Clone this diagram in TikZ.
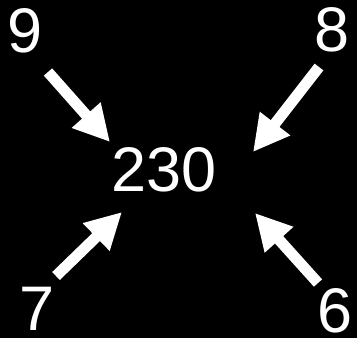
\documentclass[tikz,border=0pt]{standalone}
\usepackage{fontspec}
\setmainfont{Liberation Sans}
\usetikzlibrary{arrows.meta}
\begin{document}
\begin{tikzpicture}[x=1pt,y=-1pt,
  num/.style={text=white,font=\fontsize{63}{63}\selectfont,inner sep=0pt},
  bigarrow/.style={draw=white,line width=11pt,-{Triangle[length=36pt,width=36pt]}}]
\fill[black] (0,0) rectangle (357,338);
\useasboundingbox (0,0) rectangle (357,338);
\node[num] (n9) at (25,31) {9};
\node[num] (n8) at (332,30) {8};
\node[num] (n7) at (37,309) {7};
\node[num] (n6) at (335,311) {6};
\node[num] (c) at (164,170) {230};
\coordinate (t9) at (48,72);
\coordinate (h9) at (110,142);
\coordinate (t8) at (319,67);
\coordinate (h8) at (253,152);
\coordinate (t7) at (56,276);
\coordinate (h7) at (122,212);
\coordinate (t6) at (318,283);
\coordinate (h6) at (255,213);
\draw[bigarrow] (t9) -- (h9);
\draw[bigarrow] (t8) -- (h8);
\draw[bigarrow] (t7) -- (h7);
\draw[bigarrow] (t6) -- (h6);
\end{tikzpicture}
\end{document}
